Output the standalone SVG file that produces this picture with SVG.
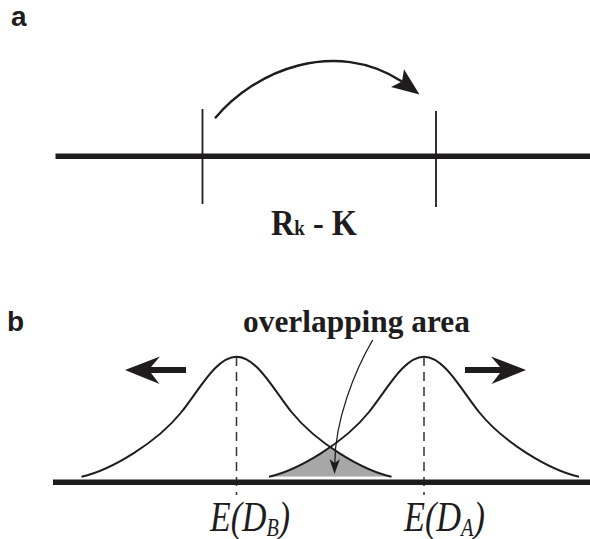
<svg xmlns="http://www.w3.org/2000/svg" width="590" height="539" viewBox="0 0 590 539">
<style>
.axis{stroke:#1e1c1c;stroke-width:5.5;fill:none}
.tick{stroke:#1e1c1c;stroke-width:1.8;fill:none}
.curve{stroke:#1e1c1c;stroke-width:2;fill:none}
.dash{stroke:#333;stroke-width:1.5;stroke-dasharray:9 6;fill:none}
.head{fill:#1e1c1c;stroke:none}
.lbl{font-family:"Liberation Sans",Arial,sans-serif;font-weight:bold;font-size:28px;fill:#1e1c1c}
.ser{font-family:"Liberation Serif","Times New Roman",serif;fill:#1e1c1c}
</style>
<defs>
<clipPath id="clipL"><path d="M81.5,476.7 C111.5,470.1 157.5,442 181.5,412 C199.5,389.5 216.5,356.7 236.5,356.7 C256.5,356.7 273.5,389.5 291.5,412 C315.5,442 361.5,470.1 391.5,476.7 Z"/></clipPath>
</defs>
<rect width="590" height="539" fill="#fff"/>
<g id="panel-a">
<text id="label-a" class="lbl" x="11" y="26">a</text>
<line class="axis" x1="55.5" y1="156.2" x2="590" y2="156.2"/>
<line id="tick-1" class="tick" x1="202.5" y1="109" x2="202.5" y2="204"/>
<line id="tick-2" class="tick" x1="436" y1="111" x2="436" y2="207"/>
<text id="label-rk" class="ser" font-weight="bold" font-size="36" x="271" y="235" textLength="86" lengthAdjust="spacingAndGlyphs"><tspan font-size="36">R</tspan><tspan font-size="21">k</tspan><tspan font-size="36"> - K</tspan></text>
</g>
<g id="panel-b">
<text id="label-b" class="lbl" x="7" y="330.5">b</text>
<path id="overlap-fill" d="M269,476.7 C299,470.1 345,442 369,412 C387,389.5 404,356.7 424,356.7 C444,356.7 461,389.5 479,412 C503,442 549,470.1 579,476.7 Z" fill="#a7a7a7" clip-path="url(#clipL)"/>
<path id="bell-b" class="curve" d="M81.5,476.7 C111.5,470.1 157.5,442 181.5,412 C199.5,389.5 216.5,356.7 236.5,356.7 C256.5,356.7 273.5,389.5 291.5,412 C315.5,442 361.5,470.1 391.5,476.7"/>
<path id="bell-a" class="curve" d="M269,476.7 C299,470.1 345,442 369,412 C387,389.5 404,356.7 424,356.7 C444,356.7 461,389.5 479,412 C503,442 549,470.1 579,476.7"/>
<line class="dash" x1="236.5" y1="357" x2="236.5" y2="495"/>
<line class="dash" x1="424" y1="357" x2="424" y2="495"/>
<line class="axis" x1="53" y1="482.2" x2="590" y2="482.2"/>
<text id="label-overlap" class="ser" font-weight="bold" font-size="31" x="243" y="332" textLength="227" lengthAdjust="spacingAndGlyphs">overlapping area</text>
<text id="label-edb" class="ser" font-style="italic" font-size="42" x="210" y="531" textLength="80" lengthAdjust="spacingAndGlyphs">E(D<tspan font-size="25" dy="5">B</tspan><tspan dy="-5">)</tspan></text>
<text id="label-eda" class="ser" font-style="italic" font-size="42" x="404" y="531" textLength="81" lengthAdjust="spacingAndGlyphs">E(D<tspan font-size="25" dy="5">A</tspan><tspan dy="-5">)</tspan></text>
</g>
<g id="connectors">
<path class="curve" style="stroke-width:2.4" d="M215,118.3 C255,70 335,38 402,81.5"/>
<polygon class="head" points="419.5,94.5 391,87 402,81.5 404,69.3"/>
<polygon class="head" points="125,370 160,356.5 151,367 186,367 186,373 151,373 159.5,384"/>
<polygon class="head" points="526,370 491,356.5 500,367 465,367 465,373 500,373 491.5,384"/>
<path class="curve" style="stroke-width:1.3" d="M372.7,340 C355,370 335,420 334.8,463"/>
<polygon class="head" points="334.5,474 329.5,459 334.7,463 340,459"/>
</g>
</svg>
